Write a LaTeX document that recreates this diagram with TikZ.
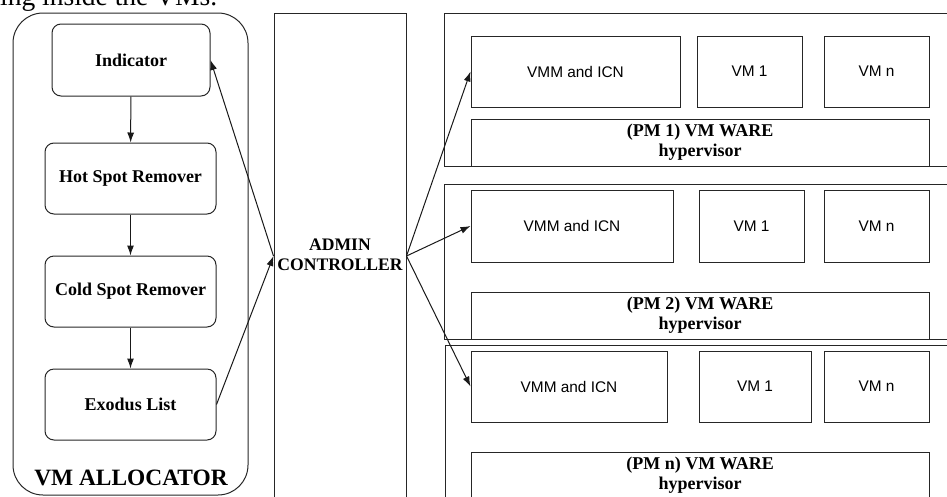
\documentclass[tikz,border=0pt]{standalone}
\usepackage{fontspec}
\setmainfont{Liberation Serif}
\setsansfont{Liberation Sans}
\usetikzlibrary{arrows.meta}
\begin{document}
\begin{tikzpicture}[x=1pt,y=-1pt,
  ln/.style={draw=black!85, line width=1pt},
  frame/.style={ln, inner sep=0pt},
  rbox/.style={ln, rounded corners=9pt, inner sep=0pt, font=\bfseries\fontsize{18}{20}\selectfont},
  sbox/.style={ln, inner sep=0pt, font=\sffamily\fontsize{15.4}{18}\selectfont},
  hbox/.style={ln, inner sep=0pt, align=center, font=\bfseries\fontsize{18}{20}\selectfont},
  arr/.style={draw=black!90, line width=1pt, -{Latex[length=10pt,width=7pt]}},
]
\useasboundingbox (0,0) rectangle (947,496);
% cut-off text at the top
\node[anchor=base west, inner sep=0pt, font=\fontsize{27.5}{30}\selectfont] (toptext) at (0,5) {ing inside the VMs.};

% VM allocator
\node[frame, rounded corners=30pt, minimum width=235, minimum height=482] (alloc) at (130.5,254) {};
\node[rbox, minimum width=158, minimum height=72] (ind) at (131,60) {Indicator};
\node[rbox, minimum width=171, minimum height=71] (hot) at (130.5,178.5) {Hot Spot Remover};
\node[rbox, minimum width=171, minimum height=71] (cold) at (130.5,291.5) {Cold Spot Remover};
\node[rbox, minimum width=171, minimum height=71] (exo) at (130.5,404.5) {Exodus List};
\node[inner sep=0pt, font=\bfseries\fontsize{23.4}{26}\selectfont] (alloclbl) at (131,477.5) {VM ALLOCATOR};
\draw[arr] (ind) -- (hot);
\draw[arr] (hot) -- (cold);
\draw[arr] (cold) -- (exo);

% Admin controller
\node[frame, minimum width=132, minimum height=486] (admin) at (340,256) {};
\node[inner sep=0pt, align=center, font=\bfseries\fontsize{17.6}{20}\selectfont] (adminlbl) at (340,255) {ADMIN\\CONTROLLER};

% PM 1
\node[frame, minimum width=516, minimum height=153] (pm1) at (702,89.5) {};
\node[sbox, minimum width=209, minimum height=71] (vmm1) at (575.5,71.5) {VMM and ICN};
\node[sbox, minimum width=105, minimum height=71] (vma1) at (749.5,71.5) {VM 1};
\node[sbox, minimum width=105, minimum height=71] (vmb1) at (876.5,71.5) {VM n};
\node[hbox, minimum width=458, minimum height=47] (hv1) at (700,142.5) {(PM 1) VM WARE\\hypervisor};

% PM 2
\node[frame, minimum width=516, minimum height=155] (pm2) at (702,261.5) {};
\node[sbox, minimum width=202, minimum height=72] (vmm2) at (572,226) {VMM and ICN};
\node[sbox, minimum width=105, minimum height=72] (vma2) at (751.5,226) {VM 1};
\node[sbox, minimum width=105, minimum height=72] (vmb2) at (876.5,226) {VM n};
\node[hbox, minimum width=458, minimum height=47] (hv2) at (700,315.5) {(PM 2) VM WARE\\hypervisor};

% PM n
\node[frame, minimum width=515, minimum height=165] (pm3) at (702.5,427.5) {};
\node[sbox, minimum width=196, minimum height=71] (vmm3) at (569,386.5) {VMM and ICN};
\node[sbox, minimum width=112, minimum height=71] (vma3) at (755,386.5) {VM 1};
\node[sbox, minimum width=105, minimum height=71] (vmb3) at (876.5,386.5) {VM n};
\node[hbox, minimum width=458, minimum height=46] (hv3) at (700,475) {(PM n) VM WARE\\hypervisor};

% connectors
\draw[arr] (admin.west) -- (ind.east);
\draw[arr] (exo.east) -- (admin.west);
\draw[arr] (admin.east) -- (vmm1.west);
\draw[arr] (admin.east) -- (vmm2.west);
\draw[arr] (admin.east) -- (vmm3.west);
\end{tikzpicture}
\end{document}
